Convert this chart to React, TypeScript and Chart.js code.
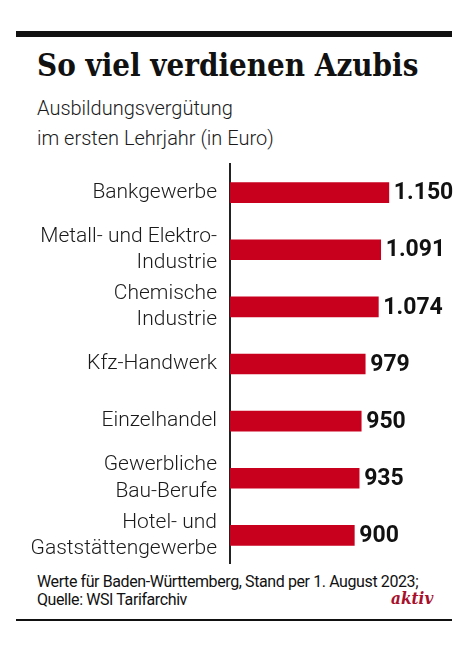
import React, { useEffect, useRef } from "react";
import { Chart, registerables } from "chart.js";

Chart.register(...registerables);

const categories: string[][] = [
  ["Bankgewerbe"],
  ["Metall- und Elektro-", "Industrie"],
  ["Chemische", "Industrie"],
  ["Kfz-Handwerk"],
  ["Einzelhandel"],
  ["Gewerbliche", "Bau-Berufe"],
  ["Hotel- und", "Gaststättengewerbe"],
];
const values: number[] = [1150, 1091, 1074, 979, 950, 935, 900];

const TITLE = "So viel verdienen Azubis";
const SUBTITLE = ["Ausbildungsvergütung", "im ersten Lehrjahr (in Euro)"];
const FOOTER = ["Werte für Baden-Württemberg, Stand per 1. August 2023;", "Quelle: WSI Tarifarchiv"];
const BRAND = "aktiv";

const BAR_COLOR = "#c8001e";

function fmt(v: number): string {
  return String(v).replace(/\B(?=(\d{3})+(?!\d))/g, ".");
}

const valueLabelPlugin = {
  id: "valueLabels",
  afterDatasetsDraw(chart: any) {
    const ctx = chart.ctx;
    const meta = chart.getDatasetMeta(0);
    ctx.save();
    ctx.font = "700 23px Roboto";
    ctx.fillStyle = "#111";
    ctx.textAlign = "left";
    ctx.textBaseline = "middle";
    meta.data.forEach((bar: any, i: number) => {
      ctx.fillText(fmt(values[i]), bar.x + 5, bar.y + 1);
    });
    ctx.restore();
  },
};

function BarChart() {
  const ref = useRef<HTMLCanvasElement | null>(null);
  useEffect(() => {
    if (!ref.current) return;
    const chart = new Chart(ref.current, {
      type: "bar",
      data: {
        labels: categories,
        datasets: [
          {
            data: values,
            backgroundColor: BAR_COLOR,
            barThickness: 20,
            borderWidth: 0,
          },
        ],
      },
      options: {
        indexAxis: "y",
        animation: false,
        responsive: false,
        maintainAspectRatio: false,
        layout: { padding: { top: 4, bottom: 0, left: 0, right: 23 } },
        plugins: { legend: { display: false }, tooltip: { enabled: false } },
        scales: {
          x: { display: false, min: 0, max: 1600 },
          y: {
            afterFit(scale: any) {
              scale.width = 230;
              scale.paddingTop = 0;
              scale.paddingBottom = 0;
            },
            grid: { display: false, drawTicks: false },
            border: { display: true, color: "#222", width: 2 },
            ticks: {
              padding: 13,
              color: "#1a1a1a",
              font: { family: "Roboto", size: 21, weight: "300" as any, lineHeight: 1.25 },
            },
          },
        },
      },
      plugins: [valueLabelPlugin],
    });
    return () => chart.destroy();
  }, []);
  return (
    <canvas
      ref={ref}
      width={474}
      height={404}
      style={{ position: "absolute", left: 0, top: 160, width: 474, height: 404 }}
    />
  );
}

export default function App() {
  return (
    <div style={{ position: "absolute", left: 0, top: 0, width: 474, height: 657, background: "#fff" }}>
      <div style={{ position: "absolute", left: 16, top: 31, width: 436, height: 6, background: "#111" }} />
      <div
        style={{
          position: "absolute",
          left: 37,
          top: 48,
          fontFamily: "'DejaVu Serif Condensed', 'DejaVu Serif', serif",
          fontWeight: 700,
          fontSize: 31,
          lineHeight: "34px",
          color: "#111",
          whiteSpace: "nowrap",
        }}
      >
        {TITLE}
      </div>
      <div
        style={{
          position: "absolute",
          left: 37,
          top: 93,
          fontFamily: "Roboto, sans-serif",
          fontWeight: 300,
          fontSize: 20,
          lineHeight: "30px",
          color: "#1a1a1a",
          whiteSpace: "nowrap",
        }}
      >
        {SUBTITLE.map((s, i) => (
          <div key={i}>{s}</div>
        ))}
      </div>
      <BarChart />
      <div
        style={{
          position: "absolute",
          left: 37,
          top: 573,
          width: 400,
          fontFamily: "Roboto, sans-serif",
          fontWeight: 400,
          fontSize: 16,
          letterSpacing: "-0.4px",
          lineHeight: "18px",
          color: "#111",
          whiteSpace: "nowrap",
        }}
      >
        {FOOTER.map((s, i) => (
          <div key={i}>{s}</div>
        ))}
      </div>
      <div
        style={{
          position: "absolute",
          left: 391,
          top: 589,
          fontFamily: "'DejaVu Serif Condensed', 'DejaVu Serif', serif",
          fontWeight: 700,
          fontStyle: "italic",
          fontSize: 17,
          lineHeight: "18px",
          color: "#a8102c",
        }}
      >
        {BRAND}
      </div>
      <div style={{ position: "absolute", left: 16, top: 619, width: 436, height: 2, background: "#111" }} />
    </div>
  );
}
